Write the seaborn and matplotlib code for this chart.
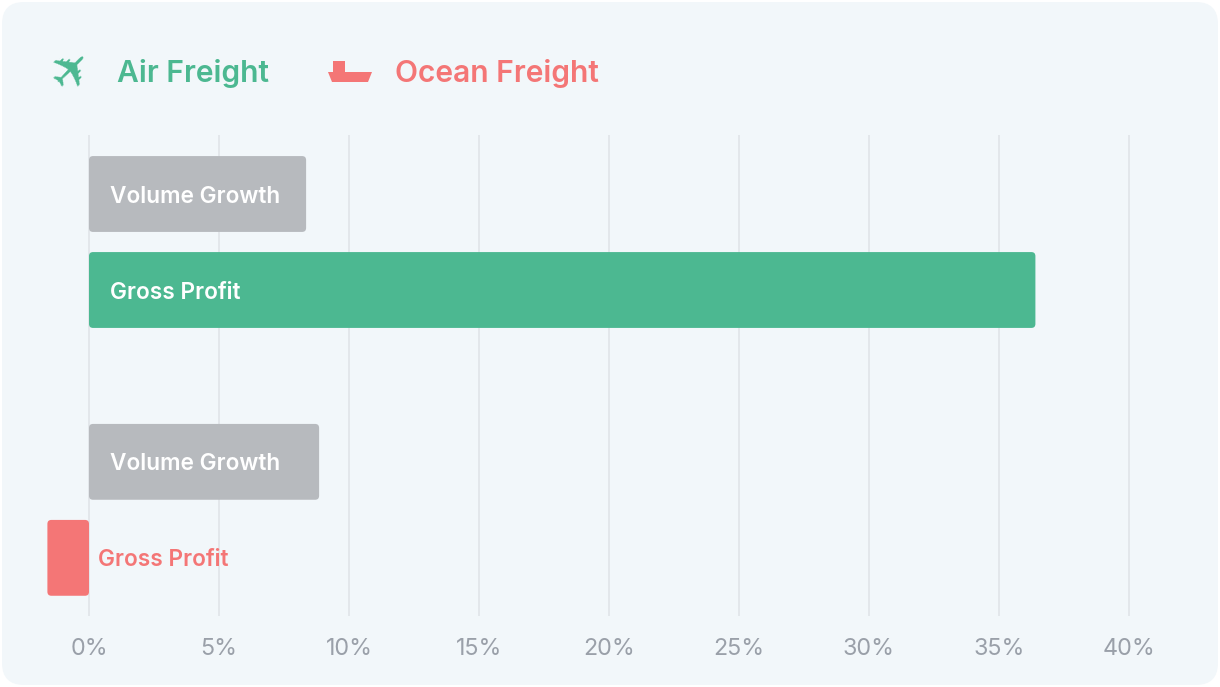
import matplotlib
matplotlib.use("Agg")
import matplotlib.pyplot as plt
from matplotlib.patches import FancyBboxPatch, Polygon, Rectangle
import pandas as pd
import seaborn as sns

# Data
groups = ["Air Freight", "Air Freight", "Ocean Freight", "Ocean Freight"]
metrics = ["Volume Growth", "Gross Profit", "Volume Growth", "Gross Profit"]
values = [8.35, 36.4, 8.85, -1.6]
kinds = ["volume", "air", "volume", "ocean"]
ticks = [0, 5, 10, 15, 20, 25, 30, 35, 40]

GREEN = "#4cb891"
RED = "#f47676"
GRAY = "#b7babe"
BG = "#f2f7fa"
TICK = "#9aa0a9"
GRID = "#e2e6ea"

# vertical layout: bars 96px apart, groups separated by a larger gap
row_pos = [0, 1, 2.79, 3.79]

df = pd.DataFrame({"group": groups, "metric": metrics, "value": values,
                   "kind": kinds, "pos": row_pos})

sns.set_theme(style="white")
plt.rcParams["font.family"] = ["Inter", "DejaVu Sans"]

W, H = 1220, 687
fig = plt.figure(figsize=(W / 100, H / 100), dpi=100)
fig.patch.set_facecolor("white")

# rounded card
card = FancyBboxPatch((2 / W, 2 / H), 1 - 4 / W, 1 - 4 / H,
                      boxstyle="round,pad=0,rounding_size=0.018",
                      mutation_aspect=W / H, transform=fig.transFigure,
                      facecolor=BG, edgecolor="none", zorder=-5)
fig.patches.append(card)

# axes placed in pixel terms: 0% at x=89, 40% at x=1129, plot from y=135 to 616
ax_l, ax_r, ax_t, ax_b = 40, 1160, 135, 616
ax = fig.add_axes([ax_l / W, 1 - ax_b / H, (ax_r - ax_l) / W, (ax_b - ax_t) / H])
ax.set_facecolor("none")
px_per_pct = (1129 - 89) / 40

for t in ticks:
    ax.axvline(t, color=GRID, lw=1.3, zorder=0)

sns.barplot(data=df, x="value", y="pos", hue="kind", orient="h", native_scale=True,
            palette={"volume": GRAY, "air": GREEN, "ocean": RED}, saturation=1,
            width=0.79, dodge=False, legend=False, ax=ax, zorder=2)

ax.set_xlim((ax_l - 89) / px_per_pct, (ax_r - 89) / px_per_pct)
ax.set_ylim((ax_b - 194) / 96, (ax_t - 194) / 96)

# swap plain rectangles for slightly rounded ones
rx = 4 / px_per_pct
ry = 4 / 96
for p in list(ax.patches):
    x, y, w, h = p.get_x(), p.get_y(), p.get_width(), p.get_height()
    if w < 0:
        x, w = x + w, -w
    fc = p.get_facecolor()
    p.remove()
    ax.add_patch(FancyBboxPatch((x, y), w, h,
                                boxstyle=f"round,pad=0,rounding_size={rx}",
                                mutation_aspect=ry / rx,
                                facecolor=fc, edgecolor="none", zorder=2))

# labels on bars
for _, r in df.iterrows():
    if r["value"] > 3:
        ax.text(21 / px_per_pct, r["pos"], r["metric"], color="white",
                fontsize=16.3, fontweight="semibold", va="center_baseline",
                ha="left", zorder=3)
    else:
        ax.text(9 / px_per_pct, r["pos"], r["metric"], color=RED,
                fontsize=16.3, fontweight="semibold", va="center_baseline",
                ha="left", zorder=3)

ax.set_xticks(ticks)
ax.set_xticklabels([f"{t}%" for t in ticks])
ax.tick_params(axis="x", length=0, labelsize=16.8, labelcolor=TICK, pad=16)
ax.set_yticks([])
ax.set_xlabel("")
ax.set_ylabel("")
for s in ax.spines.values():
    s.set_visible(False)

# legend with icons
fig.text(73 / W, 1 - 71 / H, "\u2708", color=GREEN, fontsize=36,
         family="DejaVu Sans", ha="center", va="center", rotation=45)
fig.text(117 / W, 1 - 70.5 / H, "Air Freight", color=GREEN, fontsize=21.6,
         fontweight="semibold", ha="left", va="center_baseline")

ship_hull = Polygon([(328 / W, 1 - 72 / H), (372 / W, 1 - 72 / H),
                     (368 / W, 1 - 82 / H), (332 / W, 1 - 82 / H)],
                    closed=True, transform=fig.transFigure, facecolor=RED,
                    edgecolor="none")
ship_cab = Rectangle((333 / W, 1 - 72.5 / H), 12 / W, 11.5 / H,
                     transform=fig.transFigure, facecolor=RED, edgecolor="none")
fig.patches.extend([ship_hull, ship_cab])
fig.text(395 / W, 1 - 70.5 / H, "Ocean Freight", color=RED, fontsize=21.6,
         fontweight="semibold", ha="left", va="center_baseline")

fig.savefig("out.png", dpi=100, facecolor=fig.get_facecolor())
